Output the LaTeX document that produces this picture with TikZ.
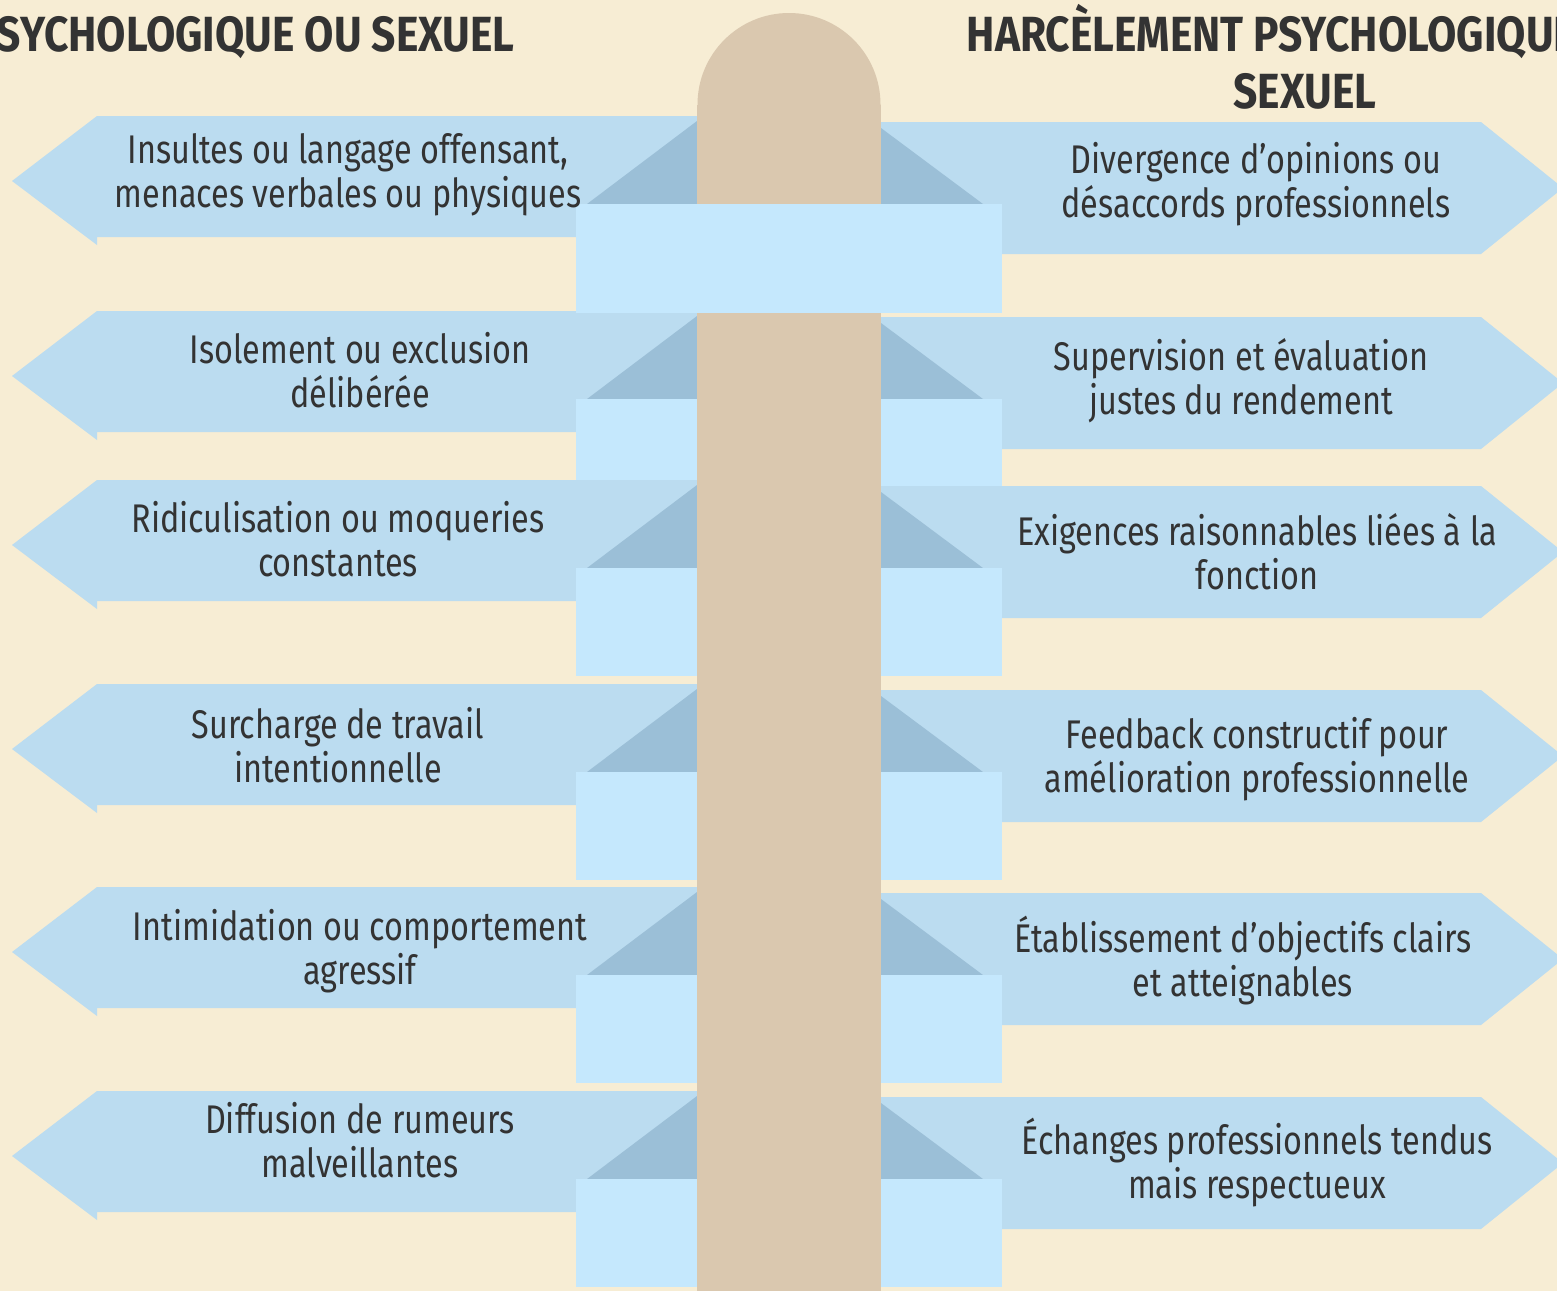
\documentclass[tikz,border=0pt]{standalone}
\usepackage{fontspec}
\setmainfont[FakeStretch=0.81]{Fira Sans}
\newfontfamily\titlefont[FakeStretch=0.86]{Fira Sans}
\definecolor{bgcream}{HTML}{F7EDD4}
\definecolor{postbeige}{HTML}{DAC8AF}
\definecolor{signblue}{HTML}{BBDCF0}
\definecolor{folddark}{HTML}{9BBFD7}
\definecolor{ribbon}{HTML}{C5E8FD}
\definecolor{ink}{HTML}{333333}
\tikzset{signbox/.style={fill=signblue},
  fold/.style={fill=folddark},
  band/.style={fill=ribbon},
  signtext/.style={text=ink, align=center, anchor=base, inner sep=0pt,
    font=\fontsize{20}{22}\selectfont},
  headline/.style={text=ink, align=center, anchor=base, inner sep=0pt,
    font=\titlefont\bfseries\fontsize{24.7}{28.5}\selectfont}}

\begin{document}
\begin{tikzpicture}[x=0.5pt, y=-0.5pt]
    \clip (0,0) rectangle (1557,1291);
    \fill[bgcream] (0,0) rectangle (1557,1291);
    % one sign per row, left and right, top edge at \t
    \foreach \t in {116,311,480,684,887,1091}{
      \fill[signbox] (697,\t) -- (97,\t) -- (12,\t+65) -- (97,\t+129)
        -- (97,\t+121) -- (697,\t+121) -- cycle;
      \fill[signbox] (881,\t+6) -- (1481,\t+6) -- (1563,\t+72)
        -- (1481,\t+138) -- (881,\t+138) -- cycle;
      \fill[fold] (697,\t+5) -- (587,\t+88) -- (697,\t+88) -- cycle;
      \fill[fold] (881,\t+12) -- (983,\t+88) -- (881,\t+88) -- cycle;
      \fill[band] (576,\t+88) rectangle (697,\t+196);
      \fill[band] (881,\t+88) rectangle (1002,\t+196);
    }
    % the post
    \fill[postbeige] (789,104.5) circle[radius=91.5];
    \fill[postbeige] (697,104.5) rectangle (880.5,1291);
    \fill[band] (576,204) rectangle (1002,312.5);

    % base = last line
    \node[headline, anchor=base east] (title-l) at (515,51) {PSYCHOLOGIQUE OU SEXUEL};
    \node[headline] (title-r) at (1305,108) {HARCÈLEMENT PSYCHOLOGIQUE OU\\SEXUEL};

    \node[signtext] (l-1) at (348,207) {Insultes ou langage offensant,\\menaces verbales ou physiques};
    \node[signtext] (l-2) at (360,407) {Isolement ou exclusion\\délibérée};
    \node[signtext] (l-3) at (338,576) {Ridiculisation ou moqueries\\constantes};
    \node[signtext] (l-4) at (338,782) {Surcharge de travail\\intentionnelle};
    \node[signtext] (l-5) at (360,984) {Intimidation ou comportement\\agressif};
    \node[signtext] (l-6) at (360,1177) {Diffusion de rumeurs\\malveillantes};

    \node[signtext] (r-1) at (1256,217) {Divergence d’opinions ou\\désaccords professionnels};
    \node[signtext] (r-2) at (1241,414) {Supervision et évaluation\\justes du rendement};
    \node[signtext] (r-3) at (1257,589) {Exigences raisonnables liées à la\\fonction};
    \node[signtext] (r-4) at (1257,792) {Feedback constructif pour\\amélioration professionnelle};
    \node[signtext] (r-5) at (1243,996) {Établissement d’objectifs clairs\\et atteignables};
    \node[signtext] (r-6) at (1257,1198) {Échanges professionnels tendus\\mais respectueux};
\end{tikzpicture}
\end{document}
